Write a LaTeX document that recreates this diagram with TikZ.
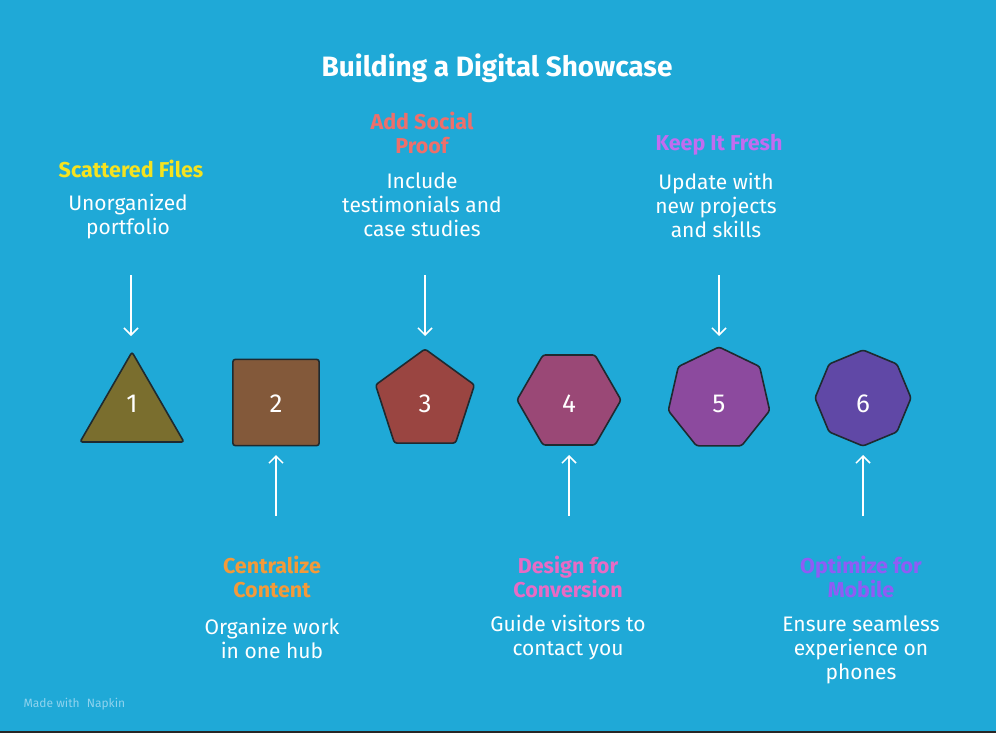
\documentclass[tikz,border=0pt]{standalone}
\usepackage{fontspec}
\setmainfont{Fira Sans}
\usetikzlibrary{shapes.geometric,arrows.meta}
\definecolor{bg}{HTML}{1FA9D7}
\definecolor{edge}{HTML}{1E2A30}
\definecolor{cA}{HTML}{7A6E2E}
\definecolor{cB}{HTML}{83593A}
\definecolor{cC}{HTML}{9A4541}
\definecolor{cD}{HTML}{9A4876}
\definecolor{cE}{HTML}{8C4A9E}
\definecolor{cF}{HTML}{6048A6}
\definecolor{tA}{HTML}{F5E31F}
\definecolor{tB}{HTML}{F39A3A}
\definecolor{tC}{HTML}{EE6F6B}
\definecolor{tD}{HTML}{E86BC5}
\definecolor{tE}{HTML}{C36CF0}
\definecolor{tF}{HTML}{8F5CF5}
\definecolor{mark}{HTML}{8FD3EE}
\tikzset{
  poly/.style={regular polygon, draw=edge, line width=1.6pt, inner sep=0pt, rounded corners=2.5pt},
  num/.style={text=white, font=\fontsize{26}{26}\selectfont},
  head/.style={font=\fontsize{21.5}{24}\selectfont\bfseries, align=center},
  desc/.style={text=white, font=\fontsize{21}{24}\selectfont, align=center},
  arr/.style={draw=white, line width=1.5pt, -{Straight Barb[length=7pt,width=14pt]}}
}
\begin{document}
\begin{tikzpicture}[x=1pt,y=-1pt]
\fill[bg] (0,0) rectangle (996,733);
\useasboundingbox (0,0) rectangle (996,733);
\fill[black!85] (0,731) rectangle (996,733);

\node[text=white, font=\fontsize{28}{30}\selectfont\bfseries] (title) at (497,68) {Building a Digital Showcase};

% shapes
\node[poly, regular polygon sides=3, minimum size=120pt, fill=cA] (s1) at (132,412) {};
\node[poly, regular polygon sides=4, minimum size=122pt, fill=cB] (s2) at (276,402.5) {};
\node[poly, regular polygon sides=5, minimum size=104pt, fill=cC] (s3) at (425,401) {};
\node[poly, regular polygon sides=6, minimum size=104pt, fill=cD] (s4) at (569,400) {};
\node[poly, regular polygon sides=7, minimum size=104pt, fill=cE] (s5) at (719,399) {};
\node[poly, regular polygon sides=8, shape border rotate=22.5, minimum size=96pt, fill=cF] (s6) at (863,398) {};

\node[num] (n1) at (132,404) {1};
\node[num] (n2) at (276,404) {2};
\node[num] (n3) at (425,404) {3};
\node[num] (n4) at (569,404) {4};
\node[num] (n5) at (719,404) {5};
\node[num] (n6) at (863,404) {6};

% arrows
\coordinate (d1a) at (131,275); \coordinate (d1b) at (131,336);
\coordinate (d3a) at (425,275); \coordinate (d3b) at (425,336);
\coordinate (d5a) at (719,275); \coordinate (d5b) at (719,336);
\coordinate (u2a) at (276,516); \coordinate (u2b) at (276,455);
\coordinate (u4a) at (569,516); \coordinate (u4b) at (569,455);
\coordinate (u6a) at (863,516); \coordinate (u6b) at (863,455);
\draw[arr] (d1a) -- (d1b);
\draw[arr] (d3a) -- (d3b);
\draw[arr] (d5a) -- (d5b);
\draw[arr] (u2a) -- (u2b);
\draw[arr] (u4a) -- (u4b);
\draw[arr] (u6a) -- (u6b);

% top labels
\node[head, text=tA] (h1) at (131,169) {Scattered Files};
\node[desc] (t1) at (128,217) {Unorganized\\portfolio};
\node[head, text=tC] (h3) at (422,133) {Add Social\\Proof};
\node[desc] (t3) at (422,205) {Include\\testimonials and\\case studies};
\node[head, text=tE] (h5) at (719,145) {Keep It Fresh};
\node[desc] (t5) at (716,205) {Update with\\new projects\\and skills};

% bottom labels
\node[head, text=tB] (h2) at (272,577) {Centralize\\Content};
\node[desc] (t2) at (272,638) {Organize work\\in one hub};
\node[head, text=tD] (h4) at (568,577) {Design for\\Conversion};
\node[desc] (t4) at (568,638) {Guide visitors to\\contact you};
\node[head, text=tF] (h6) at (861,577) {Optimize for\\Mobile};
\node[desc] (t6) at (861,650) {Ensure seamless\\experience on\\phones};

\node[anchor=west, text=mark, font=\fontsize{12}{14}\selectfont] (wm) at (20,704) {Made with \,\,Napkin};
\end{tikzpicture}
\end{document}
